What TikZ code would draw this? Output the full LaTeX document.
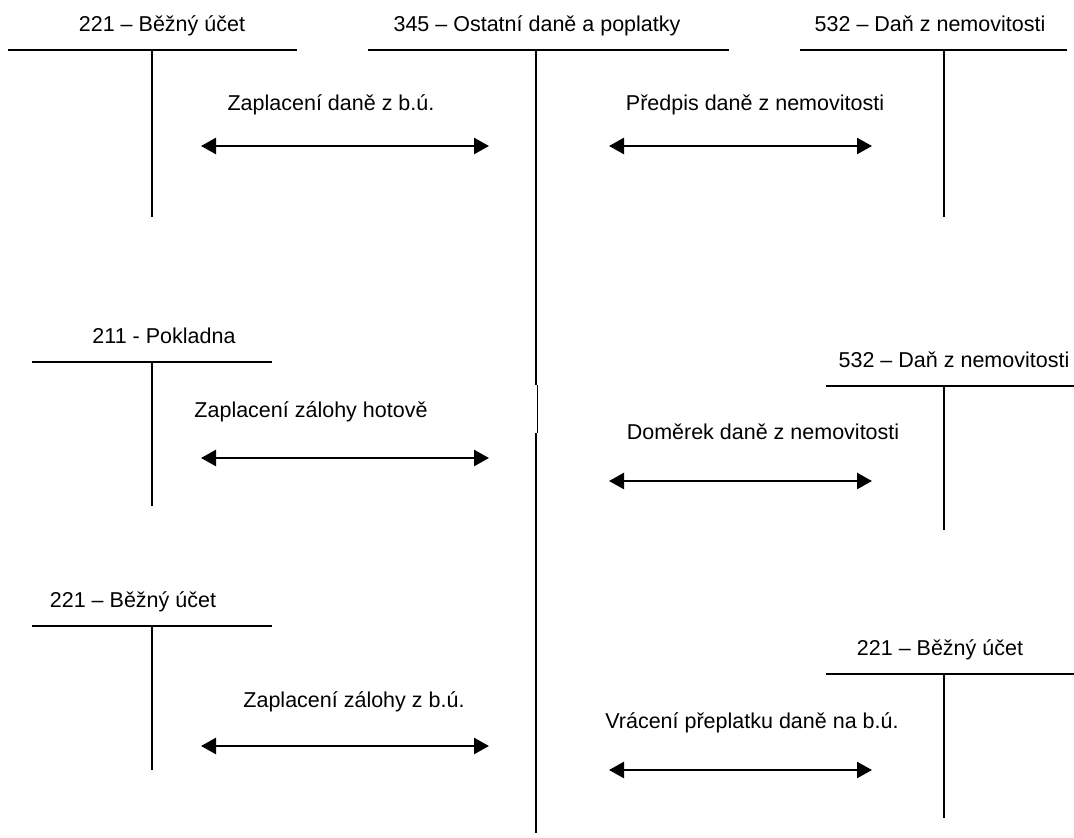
\documentclass[tikz,border=0pt]{standalone}
\usepackage{fontspec}
\setmainfont{Liberation Sans}
\usetikzlibrary{arrows.meta}
\begin{document}
\begin{tikzpicture}[x=1pt, y=-1pt,
    font=\fontsize{21.5}{26}\selectfont,
    bar/.style={line width=1.5pt},
    stem/.style={line width=2pt},
    flow/.style={line width=2.5pt, {Triangle[length=15pt,width=16pt]}-{Triangle[length=15pt,width=16pt]}},
    acct/.style={anchor=base, inner sep=0pt}]
    \useasboundingbox (0,0) rectangle (1074,838);
    % Coordinates
    \coordinate (A1) at (8, 50);
    \coordinate (A2) at (297, 50);
    \coordinate (A3) at (152, 50);
    \coordinate (A4) at (152, 217);
    \coordinate (B1) at (368, 50);
    \coordinate (B2) at (729, 50);
    \coordinate (B3) at (536, 50);
    \coordinate (B4) at (536, 385);
    \coordinate (B5) at (537, 385);
    \coordinate (B6) at (537, 433);
    \coordinate (B7) at (536, 433);
    \coordinate (B8) at (536, 833);
    \coordinate (C1) at (800, 50);
    \coordinate (C2) at (1067, 50);
    \coordinate (C3) at (944, 50);
    \coordinate (C4) at (944, 217);
    \coordinate (D1) at (32, 362);
    \coordinate (D2) at (272, 362);
    \coordinate (D3) at (152, 362);
    \coordinate (D4) at (152, 506);
    \coordinate (E1) at (826, 386);
    \coordinate (E2) at (1074, 386);
    \coordinate (E3) at (944, 386);
    \coordinate (E4) at (944, 530);
    \coordinate (F1) at (32, 626);
    \coordinate (F2) at (272, 626);
    \coordinate (F3) at (152, 626);
    \coordinate (F4) at (152, 770);
    \coordinate (G1) at (826, 674);
    \coordinate (G2) at (1074, 674);
    \coordinate (G3) at (944, 674);
    \coordinate (G4) at (944, 818);
    \coordinate (P1) at (201, 146);
    \coordinate (P2) at (489, 146);
    \coordinate (Q1) at (609, 146);
    \coordinate (Q2) at (872, 146);
    \coordinate (R1) at (201, 458);
    \coordinate (R2) at (489, 458);
    \coordinate (S1) at (609, 481);
    \coordinate (S2) at (872, 481);
    \coordinate (T1) at (201, 746);
    \coordinate (T2) at (489, 746);
    \coordinate (U1) at (609, 770);
    \coordinate (U2) at (872, 770);

    % Accounts
    \draw[bar] (A1) -- (A2);
    \draw[stem] (A3) -- (A4);
    \draw[bar] (B1) -- (B2);
    \draw[stem] (B3) -- (B4);
    \draw[line width=1pt] (B5) -- (B6);
    \draw[stem] (B7) -- (B8);
    \draw[bar] (C1) -- (C2);
    \draw[stem] (C3) -- (C4);
    \draw[bar] (D1) -- (D2);
    \draw[stem] (D3) -- (D4);
    \draw[bar] (E1) -- (E2);
    \draw[stem] (E3) -- (E4);
    \draw[bar] (F1) -- (F2);
    \draw[stem] (F3) -- (F4);
    \draw[bar] (G1) -- (G2);
    \draw[stem] (G3) -- (G4);
    \node[acct] (bu1) at (162, 31) {221 – Běžný účet};
    \node[acct] (dp) at (537, 31) {345 – Ostatní daně a poplatky};
    \node[acct] (dn1) at (930, 31) {532 – Daň z nemovitosti};
    \node[acct] (pok) at (164, 343) {211 - Pokladna};
    \node[acct] (dn2) at (954, 367) {532 – Daň z nemovitosti};
    \node[acct] (bu2) at (133, 607) {221 – Běžný účet};
    \node[acct] (bu3) at (940, 655) {221 – Běžný účet};

    % Transactions
    \draw[flow] (P1) -- (P2);
    \draw[flow] (Q1) -- (Q2);
    \draw[flow] (R1) -- (R2);
    \draw[flow] (S1) -- (S2);
    \draw[flow] (T1) -- (T2);
    \draw[flow] (U1) -- (U2);
    \node[acct] (zd) at (331, 110) {Zaplacení daně z b.ú.};
    \node[acct] (pd) at (755, 110) {Předpis daně z nemovitosti};
    \node[acct] (zh) at (311, 417) {Zaplacení zálohy hotově};
    \node[acct] (dd) at (763, 439) {Doměrek daně z nemovitosti};
    \node[acct] (zb) at (354, 707) {Zaplacení zálohy z b.ú.};
    \node[acct] (vp) at (752, 728) {Vrácení přeplatku daně na b.ú.};
\end{tikzpicture}
\end{document}
